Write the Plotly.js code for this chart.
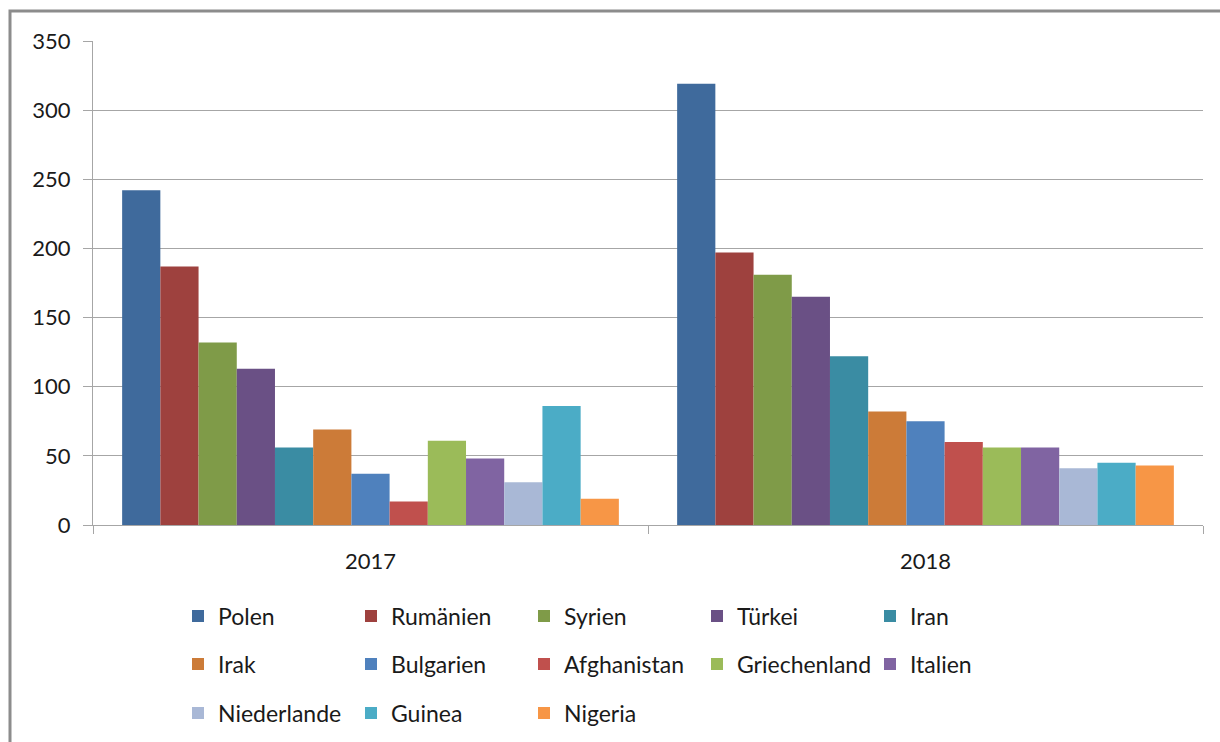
<!DOCTYPE html>
<html>
<head>
<meta charset="utf-8">
<script src="https://cdn.plot.ly/plotly-3.0.1.min.js"></script>
<style>
  html, body { margin: 0; padding: 0; background: #fff; }
  #grafica { width: 1220px; height: 742px; }
</style>
</head>
<body>
<div id="grafica"></div>
<script>
// Jahre (Kategorien)
const jahre = ['2017', '2018'];

// Länder (Serien) und Farben
const laender = ['Polen', 'Rumänien', 'Syrien', 'Türkei', 'Iran', 'Irak', 'Bulgarien',
    'Afghanistan', 'Griechenland', 'Italien', 'Niederlande', 'Guinea', 'Nigeria'];
const farben = ['#3F6A9C', '#9E413E', '#7F9B48', '#6A5085', '#3A8CA3', '#CC7B38', '#4F81BD',
    '#C0504D', '#9BBB59', '#8064A2', '#A9B8D6', '#4BACC6', '#F79646'];

// Werte je Land: [2017, 2018]
const werte2017 = [242, 187, 132, 113, 56, 69, 37, 17, 61, 48, 31, 86, 19];
const werte2018 = [319, 197, 181, 165, 122, 82, 75, 60, 56, 56, 41, 45, 43];

// Legendenzeilen (wie im Original: 5 / 5 / 3)
function legendeFuer(i) {
    if (i < 5) return 'legend';
    if (i < 10) return 'legend2';
    return 'legend3';
}

const schrift = { family: 'Lato, "Open Sans", sans-serif', size: 22, color: '#1a1a1a' };
const legendSchrift = { family: 'Lato, "Open Sans", sans-serif', size: 23, color: '#1a1a1a' };

const data = laender.map((land, i) => ({
    type: 'bar',
    name: land,
    x: jahre,
    y: [werte2017[i], werte2018[i]],
    marker: { color: farben[i], line: { width: 0 } },
    legend: legendeFuer(i),
    hoverinfo: 'x+y+name'
}));

const legendeBasis = {
    orientation: 'h',
    xanchor: 'left',
    yanchor: 'middle',
    font: legendSchrift,
    entrywidth: 128,
    entrywidthmode: 'pixels',
    bgcolor: 'rgba(0,0,0,0)',
    itemclick: false,
    traceorder: 'normal'
};

// Pixel -> Papierkoordinaten
const pl = 93, pr = 1203, pt = 41, pb = 525;
const px = v => (v - pl) / (pr - pl);
const py = v => (pb - v) / (pb - pt);

const layout = {
    width: 1220,
    height: 742,
    margin: { l: pl, r: 1220 - pr, t: pt, b: 742 - pb, autoexpand: false },
    paper_bgcolor: '#ffffff',
    plot_bgcolor: '#ffffff',
    font: schrift,
    barmode: 'group',
    bargap: 0.105,
    bargroupgap: 0,
    showlegend: true,
    xaxis: {
        type: 'category',
        showgrid: false,
        showline: true,
        linecolor: '#a6a6a6',
        linewidth: 1,
        ticks: 'outside',
        tickson: 'boundaries',
        ticklen: 8,
        tickcolor: '#a6a6a6',
        ticklabelstandoff: 17,
        tickfont: schrift,
        zeroline: false
    },
    yaxis: {
        range: [0, 350],
        dtick: 50,
        showgrid: true,
        gridcolor: '#a6a6a6',
        gridwidth: 1,
        showline: true,
        linecolor: '#a6a6a6',
        linewidth: 1,
        ticks: 'outside',
        ticklen: 9,
        tickcolor: '#a6a6a6',
        ticklabelstandoff: 8,
        tickfont: schrift,
        zeroline: false
    },
    legend: Object.assign({}, legendeBasis, { x: px(178), y: py(616) }),
    legend2: Object.assign({}, legendeBasis, { x: px(178), y: py(664) }),
    legend3: Object.assign({}, legendeBasis, { x: px(178), y: py(713) }),
    shapes: [{
        type: 'rect',
        xref: 'paper', yref: 'paper',
        x0: px(10), x1: px(1240),
        y0: py(11), y1: py(760),
        line: { color: '#8c8c8c', width: 3 },
        fillcolor: 'rgba(0,0,0,0)',
        layer: 'above'
    }]
};

Plotly.newPlot('grafica', data, layout, { displayModeBar: false, staticPlot: true });
</script>
</body>
</html>
